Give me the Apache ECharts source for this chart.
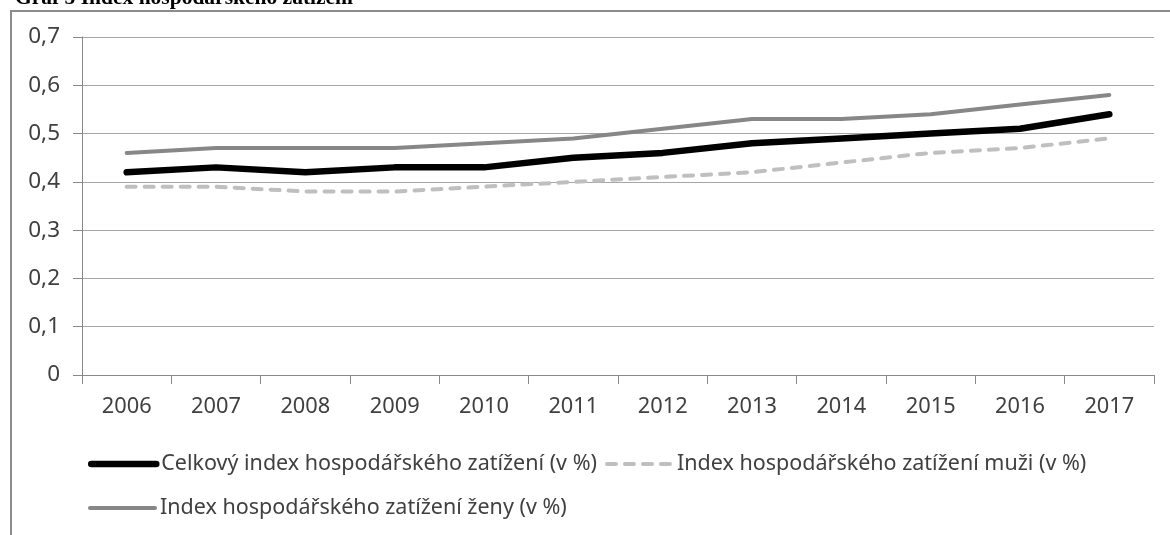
<!DOCTYPE html>
<html><head><meta charset="utf-8">
<script src="https://cdn.jsdelivr.net/npm/echarts@6/dist/echarts.min.js"></script>
<style>html,body{margin:0;padding:0;background:#fff}#c{width:1170px;height:535px}</style>
</head><body><div id="c"></div>
<script>
const years = ['2006','2007','2008','2009','2010','2011','2012','2013','2014','2015','2016','2017'];
const celkovy = [0.42,0.43,0.42,0.43,0.43,0.45,0.46,0.48,0.49,0.50,0.51,0.54];
const muzi = [0.39,0.39,0.38,0.38,0.39,0.40,0.41,0.42,0.44,0.46,0.47,0.49];
const zeny = [0.46,0.47,0.47,0.47,0.48,0.49,0.51,0.53,0.53,0.54,0.56,0.58];
const names = ['Celkový index hospodářského zatížení (v %)','Index hospodářského zatížení muži (v %)','Index hospodářského zatížení ženy (v %)'];
const titleText = 'Graf 5 Index hospodářského zatížení';

const FONT = 'Noto Sans';
const chart = echarts.init(document.getElementById('c'));
const legendCommon = {
  left:88, itemWidth:65, itemHeight:14, itemGap:8, padding:0,
  textStyle:{fontFamily: FONT, fontSize: 21.5, color: '#404040'},
  lineStyle:{width:'inherit', type:'inherit', cap:'round'},
  itemStyle:{opacity:0, color:'transparent', borderWidth:0}
};
chart.setOption({
  animation: false,
  graphic: [
    {type:'rect', z:-10, shape:{x:11,y:11,width:1300,height:700}, style:{fill:'none', stroke:'#8c8c8c', lineWidth:2}},
    {type:'text', left:15, top:-13, style:{text:titleText, font:'bold 21.5px "Liberation Serif"', fill:'#000'}}
  ],
  grid: {left:82, right:16, top:37, bottom:160},
  legend: [
    Object.assign({data:[names[0], names[1]], top:453}, legendCommon),
    Object.assign({data:[names[2]], top:497}, legendCommon)
  ],
  xAxis: {
    type:'category', data: years, boundaryGap:true,
    axisLine:{lineStyle:{color:'#888', width:1}},
    axisTick:{show:true, length:9, alignWithLabel:false, lineStyle:{color:'#888'}},
    axisLabel:{fontFamily:FONT, fontSize:21.8, color:'#404040', margin:21}
  },
  yAxis: {
    type:'value', min:0, max:0.7, interval:0.1,
    axisLine:{show:true, lineStyle:{color:'#888'}},
    axisTick:{show:true, length:9, lineStyle:{color:'#888'}},
    splitLine:{lineStyle:{color:'#a6a6a6', width:1}},
    axisLabel:{fontFamily:FONT, fontSize:22.5, color:'#404040', margin:22,
      formatter: v => String(Math.round(v*10)/10).replace('.', ',')}
  },
  series: [
    {name:names[0], type:'line', data:celkovy, symbol:'none', z:4,
      lineStyle:{color:'#000', width:6.5, cap:'round', join:'round'}, itemStyle:{color:'#000'}},
    {name:names[1], type:'line', data:muzi, symbol:'none', z:2,
      lineStyle:{color:'#bfbfbf', width:4, type:[9,9], cap:'round'}, itemStyle:{color:'#bfbfbf'}},
    {name:names[2], type:'line', data:zeny, symbol:'none', z:3,
      lineStyle:{color:'#878787', width:4, cap:'round', join:'round'}, itemStyle:{color:'#878787'}}
  ]
});
</script></body></html>
